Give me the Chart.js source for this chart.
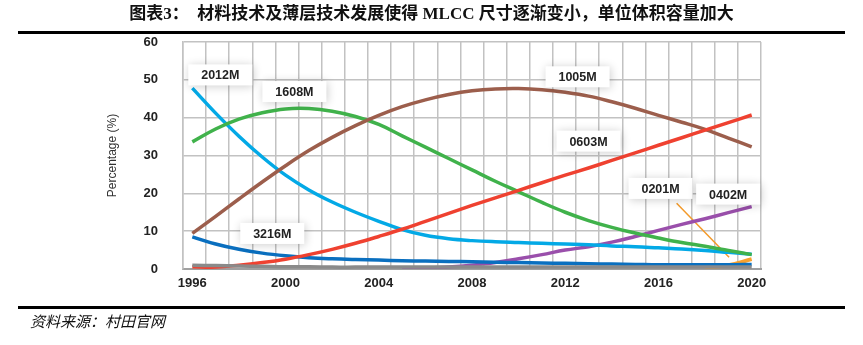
<!DOCTYPE html>
<html><head><meta charset="utf-8">
<script src="https://cdn.jsdelivr.net/npm/chart.js@4.4.1/dist/chart.umd.min.js"></script>
<style>
html,body{margin:0;padding:0;background:#fff;width:863px;height:345px;overflow:hidden}
#wrap{position:absolute;left:0;top:0;width:863px;height:345px}
#title{position:absolute;left:0;top:4px;width:863px;text-align:center;font:bold 17px/20px "Liberation Serif","Noto Sans CJK SC",serif;color:#111;white-space:pre}
.rule{position:absolute;left:18px;width:827px;height:3px;background:#000}
#src{position:absolute;left:30px;top:312px;font:italic 15px/20px "Liberation Serif","Noto Sans CJK SC",serif;color:#111}
</style></head><body>
<div id="wrap"><canvas id="c" width="863" height="345"></canvas></div>
<div id="title">图表3：  材料技术及薄层技术发展使得 MLCC 尺寸逐渐变小，单位体积容量加大</div>
<div class="rule" style="top:31px"></div>
<div class="rule" style="top:306px"></div>
<div id="src">资料来源：村田官网</div>
<script>
const years = [1996,1997,1998,1999,2000,2001,2002,2003,2004,2005,2006,2007,2008,2009,2010,2011,2012,2013,2014,2015,2016,2017,2018,2019,2020];
const tickYears = [1996,2000,2004,2008,2012,2016,2020];
const yTicks = [0,10,20,30,40,50,60];
const s2012M = [47.8,41.2,35.1,29.6,24.8,20.9,17.7,15.0,12.6,10.4,8.9,8.0,7.5,7.2,7.0,6.8,6.6,6.4,6.1,5.9,5.6,5.3,4.9,4.4,3.9];
const s1608M = [33.6,37.0,39.6,41.3,42.3,42.4,41.7,40.3,38.2,35.2,32.2,29.2,26.2,23.2,20.4,17.6,15.0,12.8,11.0,9.5,8.2,7.0,6.0,4.9,3.8];
const s1005M = [9.4,13.9,18.5,23.0,27.3,31.3,34.8,37.9,40.6,42.9,44.7,46.1,47.1,47.6,47.7,47.4,46.7,45.7,44.2,42.5,40.6,38.8,36.9,34.6,32.3];
const s0603M = [0.6,0.5,1.0,1.7,2.6,3.8,5.2,6.8,8.6,10.5,12.6,14.7,16.8,18.8,20.8,22.8,24.8,26.7,28.7,30.7,32.7,34.7,36.7,38.7,40.7];
const s3216M = [8.5,6.6,5.2,4.2,3.5,3.0,2.7,2.5,2.35,2.2,2.1,2.0,1.9,1.8,1.7,1.6,1.5,1.4,1.3,1.2,1.1,1.1,1.1,1.1,1.2];
const s0402M = [null,null,null,null,null,null,null,null,null,0.0,0.2,0.5,1.0,1.7,2.7,3.8,5.0,5.9,7.1,8.6,10.2,11.8,13.3,14.9,16.5];
const s0201M = [null,null,null,null,null,null,null,null,null,null,null,null,null,null,null,null,null,null,null,null,null,null,0.3,1.0,2.6];
const sOther = [1.0,0.9,0.8,0.7,0.6,0.6,0.5,0.5,0.5,0.5,0.5,0.5,0.5,0.5,0.5,0.5,0.5,0.5,0.5,0.5,0.5,0.5,0.5,0.5,0.5];
const leaderYears = [2016.78,2019.03];
const leaderValues = [17.4,3.1];
const labelNames = ['2012M','1608M','3216M','1005M','0603M','0201M','0402M'];
const labelYears = [1997.2,2000.38,1999.43,2012.53,2013.0,2016.09,2018.99];
const labelValues = [51.3,46.9,9.4,50.8,33.8,21.3,19.8];

const pts = arr => years.map((y,i)=>({x:y,y:arr[i]}));
const ds = (arr,color,w) => ({data:pts(arr),borderColor:color,backgroundColor:color,borderWidth:w||3.5,pointRadius:0,fill:false,tension:0.4,spanGaps:false});

const labelPlugin = {
  id:'labels',
  afterDatasetsDraw(chart){
    const {ctx, scales:{x,y}} = chart;
    ctx.save();
    ctx.font = 'bold 12.5px "Liberation Sans", Arial, sans-serif';
    labelNames.forEach((t,i)=>{
      const px = x.getPixelForValue(labelYears[i]);
      const py = y.getPixelForValue(labelValues[i]);
      const w = 64, h = 21;
      ctx.shadowColor = 'rgba(0,0,0,0.2)';
      ctx.shadowBlur = 10;
      ctx.shadowOffsetX = 1; ctx.shadowOffsetY = 1;
      ctx.fillStyle = '#fff';
      ctx.fillRect(px-w/2, py-h/2, w, h);
      ctx.shadowColor = 'transparent';
      ctx.fillStyle = '#222';
      ctx.textAlign = 'center';
      ctx.textBaseline = 'middle';
      ctx.fillText(t, px, py+1);
    });
    ctx.restore();
  }
};

new Chart(document.getElementById('c'), {
  type:'line',
  data:{datasets:[
    ds(sOther,'#8a8a8a',3.5),
    ds(s0603M,'#ef4130'),
    ds(s1005M,'#9c5e4c'),
    ds(s1608M,'#40b24b'),
    ds(s2012M,'#03a9e6'),
    ds(s3216M,'#0a6fbf'),
    ds(s0402M,'#9a4fab'),
    ds(s0201M,'#f7a12f',4),
    {data:leaderYears.map((v,i)=>({x:v,y:leaderValues[i]})),borderColor:'#f39a2a',borderWidth:1.5,pointRadius:0,fill:false}
  ]},
  options:{
    responsive:false, animation:false, devicePixelRatio:1,
    layout:{padding:{left:100,right:102,top:42,bottom:46}},
    plugins:{legend:{display:false},tooltip:{enabled:false}},
    scales:{
      x:{type:'linear',min:1995.6,max:2020.4,position:'bottom',
        afterBuildTicks:s=>{s.ticks = tickYears.map(v=>({value:v}));},
        afterFit:s=>{s.height=30;},
        grid:{display:false,drawTicks:false},
        border:{display:true,color:'#a0a0a0',width:2},
        ticks:{padding:7,autoSkip:false,maxRotation:0,color:'#222',font:{family:'"Liberation Sans", Arial',size:13,weight:'bold'},callback:v=>String(v)}
      },
      xg:{type:'linear',min:0,max:25,position:'bottom',
        afterBuildTicks:s=>{s.ticks = Array.from({length:26},(_,i)=>({value:i}));},
        afterFit:s=>{s.height=0;},
        grid:{display:true,drawTicks:false,color:'#c2c2c2',lineWidth:1.5},
        border:{display:false},
        ticks:{display:false}
      },
      y:{min:0,max:60,
        afterBuildTicks:s=>{s.ticks = yTicks.map(v=>({value:v}));},
        afterFit:s=>{s.width=83;},
        grid:{drawTicks:false,color:'#c2c2c2',lineWidth:1.5},
        border:{display:true,color:'#c2c2c2',width:1.5},
        ticks:{padding:25,color:'#222',font:{family:'"Liberation Sans", Arial',size:13,weight:'bold'}},
        title:{display:true,text:'Percentage (%)',color:'#333',padding:{top:5,bottom:0},font:{family:'"Liberation Sans", Arial',size:12}}
      }
    }
  },
  plugins:[labelPlugin]
});
</script>
</body></html>
